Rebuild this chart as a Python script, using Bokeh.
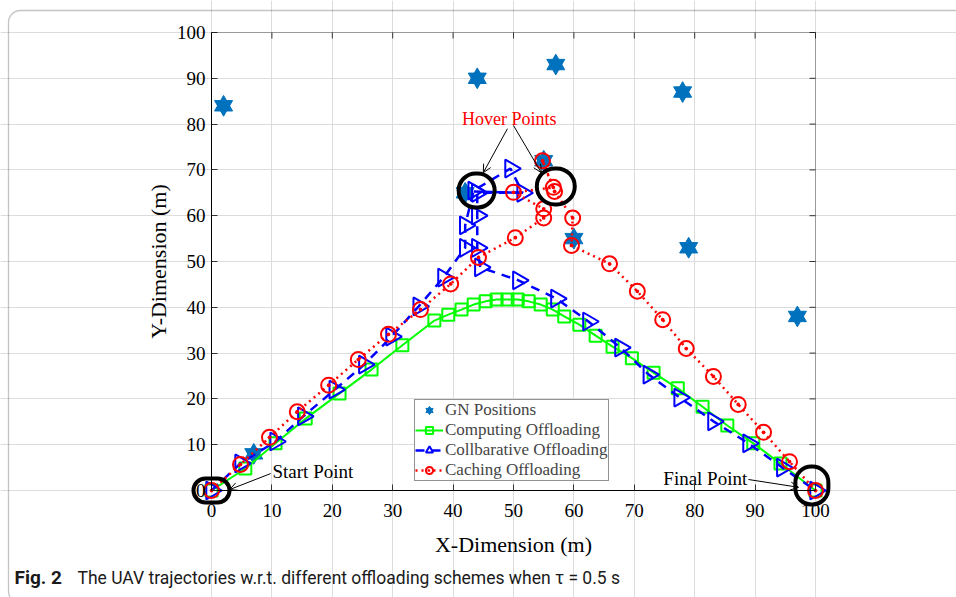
import math
from bokeh.plotting import figure
from bokeh.models import (Range1d, Legend, LegendItem, Label, Arrow,
                          OpenHead, BoxAnnotation, SingleIntervalTicker)
from bokeh.embed import file_html
from bokeh.resources import INLINE

# ---------------- data ----------------
gn_x = [2, 7, 42, 44, 55, 57, 60, 78, 79, 97]
gn_y = [84, 8, 65, 90, 72, 93, 55, 87, 53, 38]

comp_x = [0, 5.6, 10.6, 15.6, 21.2, 26.5, 31.6, 36.9, 39.2, 41.4, 43.4, 45.4, 47.2, 49.0,
          50.7, 52.5, 54.5, 56.5, 58.4, 60.9, 63.6, 66.4, 69.6, 73.2, 77.2, 81.3, 85.4,
          89.7, 94.2, 100]
comp_y = [0, 4.8, 10.3, 15.7, 21.2, 26.4, 31.7, 37.1, 38.4, 39.5, 40.6, 41.3, 41.7, 41.7,
          41.7, 41.3, 40.6, 39.5, 38.0, 36.2, 33.8, 31.4, 28.9, 25.7, 22.3, 18.3, 14.2,
          10.3, 5.9, 0]

coll_x = [0, 4.8, 10.6, 15.2, 20.4, 25.3, 29.8, 34.3, 38.4, 42.0, 42.0, 43.4, 49.5, 51.5,
          44.0, 44.0, 44.0, 44.5, 50.8, 57.1, 62.4, 67.7, 72.4, 77.5, 83.1, 88.9, 94.5, 100]
coll_y = [0, 5.9, 10.7, 16.2, 22.0, 27.5, 33.6, 40.2, 46.5, 53.0, 57.9, 65.5, 70.3, 65.0,
          65.0, 60.0, 53.0, 48.7, 45.9, 41.9, 36.9, 31.2, 25.3, 20.3, 15.1, 10.3, 5.0, 0]
coll_hover_x = [43.4, 51.5]
coll_hover_y = [65.3, 65.0]

cach_x = [0, 4.8, 9.6, 14.2, 19.4, 24.3, 29.3, 34.6, 39.6, 44.2, 50.3, 55.0, 55.0, 50.0,
          56.6, 54.8, 56.8, 59.8, 59.6, 65.9, 70.5, 74.7, 78.6, 83.1, 87.2, 91.4, 95.7, 100]
cach_y = [0, 5.7, 11.6, 17.2, 23.0, 28.6, 34.1, 39.5, 45.1, 50.9, 55.2, 59.5, 61.5, 65.1,
          66.2, 72.0, 65.3, 59.5, 53.5, 49.5, 43.5, 37.3, 31.0, 24.9, 18.8, 12.7, 6.3, 0]

ticks = list(range(0, 101, 10))

SERIF = "Liberation Serif"
W, H = 956, 597
# pixel placement of the axes box inside the canvas
PX_L, PX_R, PX_T, PX_B = 211, 815, 32, 490
sx = (PX_R - PX_L) / 100.0
sy = (PX_B - PX_T) / 100.0

def dx(px):
    return (px - PX_L) / sx

def dy(py):
    return (PX_B - py) / sy

p = figure(width=W, height=H,
           x_range=Range1d(dx(0), dx(W)), y_range=Range1d(dy(H), dy(0)),
           output_backend="svg", toolbar_location=None,
           min_border=0, min_border_left=0, min_border_right=0,
           min_border_top=0, min_border_bottom=0)
p.background_fill_color = "white"
p.border_fill_color = "white"
p.outline_line_color = None

ticker = SingleIntervalTicker(interval=10, num_minor_ticks=0)
for ax in (p.xaxis[0], p.yaxis[0]):
    ax.ticker = ticker
    ax.fixed_location = 0
    ax.bounds = (0, 100)
    ax.major_tick_in = 6
    ax.major_tick_out = 0
    ax.minor_tick_line_color = None
    ax.major_label_text_font = SERIF
    ax.major_label_text_font_size = "19px"
    ax.major_label_text_color = "black"
    ax.axis_label_text_font = SERIF
    ax.axis_label_text_font_size = "22px"
    ax.axis_label_text_font_style = "normal"
    ax.axis_label_text_color = "black"
    ax.axis_line_color = "black"
    ax.major_tick_line_color = "#333333"
p.xaxis[0].axis_label = "X-Dimension (m)"
p.yaxis[0].axis_label = "Y-Dimension (m)"
p.xaxis[0].major_label_standoff = 13
p.yaxis[0].major_label_standoff = 6
p.xaxis[0].axis_label_standoff = 12
p.yaxis[0].axis_label_standoff = 3

for g in p.grid:
    g.ticker = ticker
    g.bounds = (0, 100)
    g.grid_line_color = "#dcdcdc"
    g.grid_line_width = 1

# box around the axes + inward ticks on top and right
p.add_layout(BoxAnnotation(left=0, right=100, bottom=0, top=100, fill_alpha=0,
                           line_color="black", line_width=1, editable=False))
tick_len_x = 6 / sx
tick_len_y = 6 / sy
p.segment(x0=ticks, y0=[100] * len(ticks), x1=ticks, y1=[100 - tick_len_y] * len(ticks),
          line_color="#333333", line_width=1)
p.segment(x0=[100] * len(ticks), y0=ticks, x1=[100 - tick_len_x] * len(ticks), y1=ticks,
          line_color="#333333", line_width=1)

# GN positions: hexagram made from two triangles
GN_COL = "#0072BD"
gn_up = p.scatter(gn_x, gn_y, marker="triangle", size=18, fill_color=GN_COL,
                  line_color=GN_COL, line_width=1)
gn_dn = p.scatter(gn_x, gn_y, marker="inverted_triangle", size=18, fill_color=GN_COL,
                  line_color=GN_COL, line_width=1)

# Computing offloading
c_line = p.line(comp_x, comp_y, line_color="#00FF00", line_width=2)
c_mark = p.scatter(comp_x, comp_y, marker="square", size=12, fill_color=None,
                   line_color="#00FF00", line_width=2)

# Collaborative offloading
b_line = p.line(coll_x, coll_y, line_color="#0000FF", line_width=2.5, line_dash="9 7")
b_hover = p.line(coll_hover_x, coll_hover_y, line_color="#0000FF", line_width=2.5)
b_mark = p.scatter(coll_x, coll_y, marker="triangle", angle=-math.pi / 2, size=18,
                   fill_color=None, line_color="#0000FF", line_width=2)

# Caching offloading
r_line = p.line(cach_x, cach_y, line_color="#FF0000", line_width=2.5, line_dash="2 4")
r_mark = p.scatter(cach_x, cach_y, marker="circle_dot", size=15, fill_color=None,
                   line_color="#FF0000", line_width=2)

legend = Legend(items=[
    LegendItem(label="GN Positions", renderers=[gn_up, gn_dn]),
    LegendItem(label="Computing Offloading", renderers=[c_line, c_mark]),
    LegendItem(label="Collbarative Offloading", renderers=[b_line, b_mark]),
    LegendItem(label="Caching Offloading", renderers=[r_line, r_mark]),
], location=(414, H - 481))
legend.label_text_font = SERIF
legend.label_text_font_size = "17px"
legend.label_height = 18
legend.glyph_height = 18
legend.glyph_width = 28
legend.spacing = 0
legend.padding = 0
legend.margin = 0
legend.label_standoff = 2
legend.border_line_color = "#262626"
legend.border_line_width = 1
legend.background_fill_alpha = 1
p.add_layout(legend, "center")

# ----- annotations: rings, arrows, texts -----
def ring(cx, cy, wpx, hpx):
    w = wpx / sx / 2
    h = hpx / sy / 2
    b = BoxAnnotation(left=cx - w, right=cx + w, bottom=cy - h, top=cy + h,
                      fill_alpha=0, line_color="black", line_width=4, line_alpha=1,
                      border_radius=int(min(wpx, hpx) // 2), editable=False)
    p.add_layout(b)

ring(0, 0, 36, 24)
ring(43.9, 65.5, 36, 34)
ring(57.0, 66.4, 38, 36)
ring(99.4, 1.1, 33, 38)

def arrow(x0, y0, x1, y1):
    p.add_layout(Arrow(end=OpenHead(size=8, line_width=1, line_color="black"),
                       x_start=x0, y_start=y0, x_end=x1, y_end=y1,
                       line_color="black", line_width=1))

arrow(49.0, 79.0, 45.0, 69.4)
arrow(50.0, 79.7, 54.6, 69.4)
arrow(9.8, 3.7, 3.0, 0.2)
arrow(88.9, 2.4, 97.2, 0.7)

p.add_layout(Label(x=49.3, y=81.2, text="Hover Points", text_font=SERIF,
                   text_font_size="18px", text_color="#FF0000", text_align="center",
                   text_baseline="middle"))
p.add_layout(Label(x=10.1, y=4.1, text="Start Point", text_font=SERIF,
                   text_font_size="19px", text_color="black", text_align="left",
                   text_baseline="middle"))
p.add_layout(Label(x=88.7, y=2.6, text="Final Point", text_font=SERIF,
                   text_font_size="19px", text_color="black", text_align="right",
                   text_baseline="middle"))

# caption
p.add_layout(Label(x=dx(14), y=dy(577), text="Fig. 2",
                   text_font="Roboto", text_font_size="19px", text_font_style="bold",
                   text_color="#1a1a1a", text_baseline="middle"))
p.add_layout(Label(x=dx(77), y=dy(577),
                   text="The UAV trajectories w.r.t. different offloading schemes when \u03c4 = 0.5 s",
                   text_font="Roboto", text_font_size="17.5px",
                   text_color="#1a1a1a", text_baseline="middle"))

# outer rounded border
p.add_layout(BoxAnnotation(left=dx(8), right=dx(990), top=dy(10), bottom=dy(603),
                           fill_alpha=0, line_color="#3a3a3a", line_width=1.3,
                           border_radius=12, editable=False))

open("out.html", "w").write(file_html(p, INLINE))
